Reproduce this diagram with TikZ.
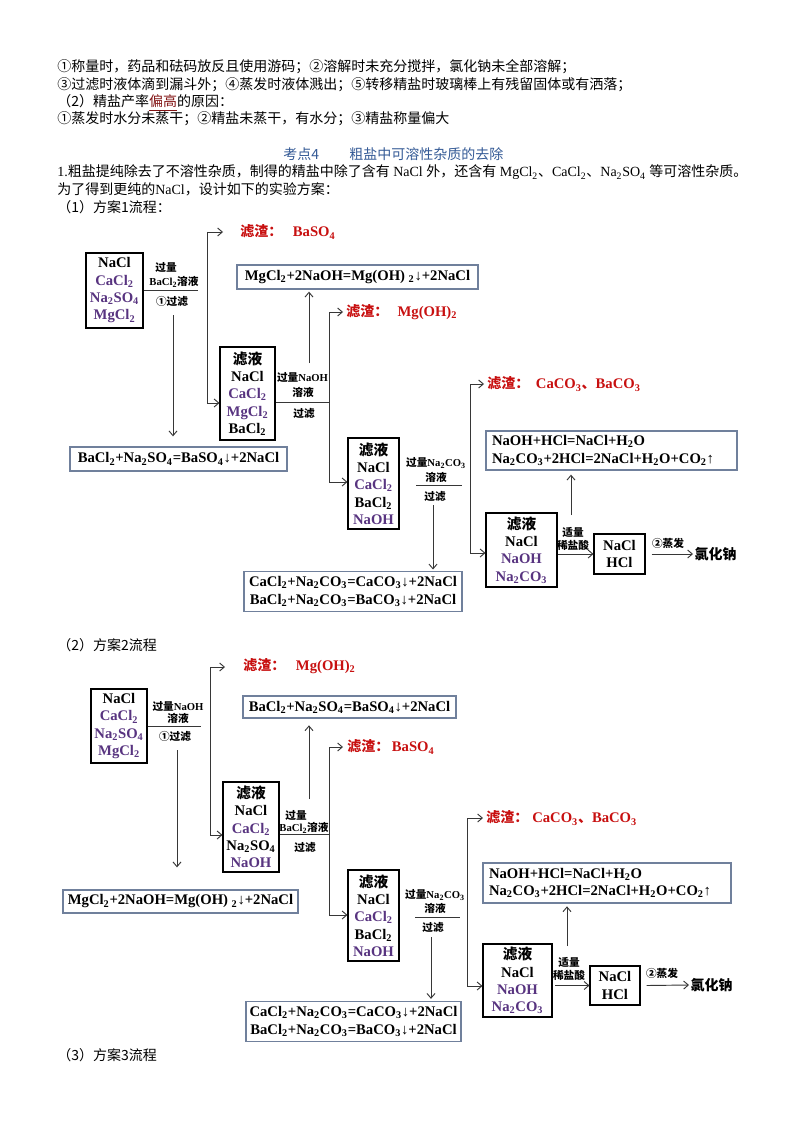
\documentclass[tikz,border=0pt]{standalone}
\usepackage{fontspec}
\setmainfont{Liberation Serif}
\newfontfamily\zh{Noto Sans CJK SC}
\usetikzlibrary{arrows.meta}
\definecolor{purp}{RGB}{88,52,128}
\definecolor{redc}{RGB}{200,16,16}
\definecolor{headc}{RGB}{52,90,150}
\definecolor{dred}{RGB}{130,20,20}
\definecolor{eqc}{RGB}{112,128,156}
\definecolor{linec}{RGB}{55,55,55}
\def\upx{0.75pt}
\newcommand{\pc}[1]{\textcolor{purp}{#1}}
\newcommand{\ssb}[1]{\textsubscript{#1}}
\newcommand{\zz}[1]{{\zh\fontsize{10.5}{13}\selectfont #1}}
\tikzset{
  sol/.style={draw=black, line width=0.8pt, align=center, inner sep=0pt, font=\fontsize{11}{13}\selectfont\bfseries},
  eq/.style={draw=eqc, line width=1pt, align=center, inner sep=0pt, font=\fontsize{11}{13}\selectfont\bfseries},
  lbl/.style={inner sep=0pt, font=\fontsize{8}{10}\selectfont\bfseries},
  res/.style={anchor=west, inner sep=0pt, text=redc, font=\fontsize{11}{13}\selectfont\bfseries},
  prod/.style={anchor=west, inner sep=1pt, font=\fontsize{10.5}{13}\selectfont\bfseries},
  body/.style={anchor=base west, inner sep=0pt, font=\fontsize{10.5}{12}\selectfont},
  conn/.style={draw=linec, line width=0.7pt},
  arr/.style={conn, -{Straight Barb[length=3.5pt,width=6pt]}},
}
\begin{document}
\begin{tikzpicture}[x=\upx,y=-\upx]
\fill[white] (0,0) rectangle (794,1123);
\useasboundingbox (0,0) rectangle (794,1123);

% ---------------- body text ----------------
\node[body] (t1) at (57,72) {\zh ①称量时，药品和砝码放反且使用游码；②溶解时未充分搅拌，氯化钠未全部溶解；};
\node[body] (t2) at (57,90) {\zh ③过滤时液体滴到漏斗外；④蒸发时液体溅出；⑤转移精盐时玻璃棒上有残留固体或有洒落；};
\node[body] (t3) at (57,107) {\zh （2）精盐产率\textcolor{dred}{\underline{偏高}}的原因：};
\node[body] (t4) at (57,124) {\zh ①蒸发时水分未蒸干；②精盐未蒸干，有水分；③精盐称量偏大};
\node[body, text=headc] (h1) at (283,160) {\zh 考点4};
\node[body, text=headc] (h2) at (349,160) {\zh 粗盐中可溶性杂质的去除};
\node[body] (t5) at (57,177) {1.{\zh 粗盐提纯除去了不溶性杂质，制得的精盐中除了含有} NaCl {\zh 外，还含有} MgCl\ssb{2}{\zh 、}CaCl\ssb{2}{\zh 、}Na\ssb{2}SO\ssb{4} {\zh 等可溶性杂质。}};
\node[body] (t6) at (57,195) {{\zh 为了得到更纯的}NaCl{\zh ，设计如下的实验方案：}};
\node[body] (t7) at (57,213) {\zh （1）方案1流程：};
\node[body] (t8) at (57,650) {\zh （2）方案2流程};
\node[body] (t9) at (57,1060) {\zh （3）方案3流程};

% ---------------- chart 1 ----------------
\node[sol, minimum width=57*\upx, minimum height=75*\upx] (A1) at (114.5,290.5) {NaCl\\\pc{CaCl\ssb{2}}\\\pc{Na\ssb{2}SO\ssb{4}}\\\pc{MgCl\ssb{2}}};
\node[sol, minimum width=55*\upx, minimum height=93*\upx] (B1) at (247.5,393.5) {{\zh 滤液}\\NaCl\\\pc{CaCl\ssb{2}}\\\pc{MgCl\ssb{2}}\\BaCl\ssb{2}};
\node[sol, minimum width=51*\upx, minimum height=91*\upx] (C1) at (373.5,483.5) {{\zh 滤液}\\NaCl\\\pc{CaCl\ssb{2}}\\BaCl\ssb{2}\\\pc{NaOH}};
\node[sol, minimum width=71*\upx, minimum height=74*\upx] (D1) at (521.5,550) {{\zh 滤液}\\NaCl\\\pc{NaOH}\\\pc{Na\ssb{2}CO\ssb{3}}};
\node[sol, minimum width=51*\upx, minimum height=40*\upx] (F1) at (619.5,554) {NaCl\\HCl};

\node[eq, minimum width=241*\upx, minimum height=24*\upx] (M1) at (357.5,277) {MgCl\ssb{2}+2NaOH=Mg(OH) \ssb{2}↓+2NaCl};
\node[eq, minimum width=217*\upx, minimum height=24*\upx] (H1) at (178.5,459) {BaCl\ssb{2}+Na\ssb{2}SO\ssb{4}=BaSO\ssb{4}↓+2NaCl};
\node[eq, minimum width=218*\upx, minimum height=40*\upx] (G1) at (353,591.5) {CaCl\ssb{2}+Na\ssb{2}CO\ssb{3}=CaCO\ssb{3}↓+2NaCl\\BaCl\ssb{2}+Na\ssb{2}CO\ssb{3}=BaCO\ssb{3}↓+2NaCl};
\node[eq, align=left, text width=239*\upx, inner xsep=6*\upx, minimum height=39*\upx] (E1) at (611.5,450.5) {NaOH+HCl=NaCl+H\ssb{2}O\\Na\ssb{2}CO\ssb{3}+2HCl=2NaCl+H\ssb{2}O+CO\ssb{2}↑};

\node[res] (R1) at (240,232) {\zz{滤渣：}\hspace{8pt}BaSO\ssb{4}};
\node[res] (R2) at (346,312) {\zz{滤渣：}\hspace{7pt}Mg(OH)\ssb{2}};
\node[res] (R3) at (487,384) {\zz{滤渣：}\hspace{5pt}CaCO\ssb{3}\zz{、}BaCO\ssb{3}};

\node[lbl] (l1a) at (166,268) {\zh 过量};
\node[lbl] (l1b) at (174,282) {BaCl\ssb{2}{\zh 溶液}};
\node[lbl] (l1c) at (172,302) {\zh ①过滤};
\node[lbl] (l2a) at (302.5,378) {{\zh 过量}NaOH};
\node[lbl] (l2b) at (303,392) {\zh 溶液};
\node[lbl] (l2c) at (304,414) {\zh 过滤};
\node[lbl] (l3a) at (436,463) {{\zh 过量}Na\ssb{2}CO\ssb{3}};
\node[lbl] (l3b) at (436,477) {\zh 溶液};
\node[lbl] (l3c) at (435,497) {\zh 过滤};
\node[lbl] (l4a) at (573,532) {\zh 适量};
\node[lbl] (l4b) at (573,545) {\zh 稀盐酸};
\node[lbl] (l5) at (668,543) {\zh ②蒸发};
\node[prod] (N1) at (693,554) {\zh 氯化钠};

\coordinate (a1e) at (198,290.5);
\draw[conn] (A1.east) -- (a1e);
\coordinate (k1t) at (207,232); \coordinate (k1b) at (207,403); \coordinate (k1r) at (223,232);
\draw[arr] (k1b) -- (k1t) -- (k1r);
\draw[arr] (k1t) -- (k1b) -- (k1b -| B1.west);
\coordinate (d1) at (173,315);
\draw[arr, shorten >=7.5pt] (d1) -- (d1 |- H1.north);
\coordinate (j2) at (329,402);
\draw[conn] (j2 -| B1.east) -- (j2);
\coordinate (u1) at (309,363);
\draw[arr, shorten >=1.5pt] (u1) -- (u1 |- M1.south);
\coordinate (k2t) at (329,312); \coordinate (k2b) at (329,482); \coordinate (k2r) at (343,312);
\draw[arr] (k2b) -- (k2t) -- (k2r);
\draw[arr] (k2t) -- (k2b) -- (k2b -| C1.west);
\coordinate (c1a) at (416,485); \coordinate (c1b) at (462,485);
\draw[conn] (c1a) -- (c1b);
\coordinate (d2) at (433,505);
\draw[arr, shorten >=1pt] (d2) -- (d2 |- G1.north);
\coordinate (k3t) at (470,384); \coordinate (k3b) at (470,553); \coordinate (k3r) at (484,384);
\draw[arr] (k3b) -- (k3t) -- (k3r);
\draw[arr] (k3t) -- (k3b) -- (k3b -| D1.west);
\coordinate (u2) at (571,515);
\draw[arr, shorten >=3pt] (u2) -- (u2 |- E1.south);
\draw[arr] (F1.west -| D1.east) -- (F1.west);
\draw[arr] ([xshift=4.5pt]F1.east) -- (N1.west);

% ---------------- chart 2 ----------------
\node[sol, minimum width=56*\upx, minimum height=74*\upx] (A2) at (119,726) {NaCl\\\pc{CaCl\ssb{2}}\\\pc{Na\ssb{2}SO\ssb{4}}\\\pc{MgCl\ssb{2}}};
\node[sol, minimum width=56*\upx, minimum height=90*\upx] (B2) at (251,827) {{\zh 滤液}\\NaCl\\\pc{CaCl\ssb{2}}\\Na\ssb{2}SO\ssb{4}\\\pc{NaOH}};
\node[sol, minimum width=51*\upx, minimum height=91*\upx] (C2) at (373.5,915.5) {{\zh 滤液}\\NaCl\\\pc{CaCl\ssb{2}}\\BaCl\ssb{2}\\\pc{NaOH}};
\node[sol, minimum width=69*\upx, minimum height=73*\upx] (D2) at (517.5,980.5) {{\zh 滤液}\\NaCl\\\pc{NaOH}\\\pc{Na\ssb{2}CO\ssb{3}}};
\node[sol, minimum width=50*\upx, minimum height=39*\upx] (F2) at (615,985.5) {NaCl\\HCl};

\node[eq, minimum width=213*\upx, minimum height=22*\upx] (M2) at (349.5,707) {BaCl\ssb{2}+Na\ssb{2}SO\ssb{4}=BaSO\ssb{4}↓+2NaCl};
\node[eq, minimum width=235*\upx, minimum height=23*\upx] (H2) at (180.5,901.5) {MgCl\ssb{2}+2NaOH=Mg(OH) \ssb{2}↓+2NaCl};
\node[eq, minimum width=215*\upx, minimum height=40*\upx] (G2) at (353.5,1021.5) {CaCl\ssb{2}+Na\ssb{2}CO\ssb{3}=CaCO\ssb{3}↓+2NaCl\\BaCl\ssb{2}+Na\ssb{2}CO\ssb{3}=BaCO\ssb{3}↓+2NaCl};
\node[eq, align=left, text width=236*\upx, inner xsep=6*\upx, minimum height=40*\upx] (E2) at (607,883) {NaOH+HCl=NaCl+H\ssb{2}O\\Na\ssb{2}CO\ssb{3}+2HCl=2NaCl+H\ssb{2}O+CO\ssb{2}↑};

\node[res] (R4) at (243,666) {\zz{滤渣：}\hspace{8pt}Mg(OH)\ssb{2}};
\node[res] (R5) at (347,747) {\zz{滤渣：}\hspace{2pt}BaSO\ssb{4}};
\node[res] (R6) at (486,818) {\zz{滤渣：}\hspace{3pt}CaCO\ssb{3}\zz{、}BaCO\ssb{3}};

\node[lbl] (m1a) at (178,706) {{\zh 过量}NaOH};
\node[lbl] (m1b) at (178,718) {\zh 溶液};
\node[lbl] (m1c) at (175,737) {\zh ①过滤};
\node[lbl] (m2a) at (296,815) {\zh 过量};
\node[lbl] (m2b) at (304,828) {BaCl\ssb{2}{\zh 溶液}};
\node[lbl] (m2c) at (305,848) {\zh 过滤};
\node[lbl] (m3a) at (435,895) {{\zh 过量}Na\ssb{2}CO\ssb{3}};
\node[lbl] (m3b) at (435,908) {\zh 溶液};
\node[lbl] (m3c) at (433,927) {\zh 过滤};
\node[lbl] (m4a) at (569,962) {\zh 适量};
\node[lbl] (m4b) at (569,975) {\zh 稀盐酸};
\node[lbl] (m5) at (662,973) {\zh ②蒸发};
\node[prod] (N2) at (689,985) {\zh 氯化钠};

\coordinate (a2e) at (201,726);
\draw[conn] (A2.east) -- (a2e);
\coordinate (k4t) at (210,667); \coordinate (k4b) at (210,835); \coordinate (k4r) at (225,667);
\draw[arr] (k4b) -- (k4t) -- (k4r);
\draw[arr] (k4t) -- (k4b) -- (k4b -| B2.west);
\coordinate (d3) at (177,750);
\draw[arr, shorten >=16.5pt] (d3) -- (d3 |- H2.north);
\coordinate (j5) at (329,834);
\draw[conn] (j5 -| B2.east) -- (j5);
\coordinate (u3) at (309,799);
\draw[arr, shorten >=5pt] (u3) -- (u3 |- M2.south);
\coordinate (k5t) at (329,747); \coordinate (k5b) at (329,915); \coordinate (k5r) at (343,747);
\draw[arr] (k5b) -- (k5t) -- (k5r);
\draw[arr] (k5t) -- (k5b) -- (k5b -| C2.west);
\coordinate (c2a) at (415,917); \coordinate (c2b) at (460,917);
\draw[conn] (c2a) -- (c2b);
\coordinate (d4) at (431,937);
\draw[arr, shorten >=1.5pt] (d4) -- (d4 |- G2.north);
\coordinate (k6t) at (467,818); \coordinate (k6b) at (467,986); \coordinate (k6r) at (483,818);
\draw[arr] (k6b) -- (k6t) -- (k6r);
\draw[arr] (k6t) -- (k6b) -- (k6b -| D2.west);
\coordinate (u4) at (567,946);
\draw[arr, shorten >=2pt] (u4) -- (u4 |- E2.south);
\draw[arr] ([xshift=2pt]F2.west -| D2.east) -- (F2.west);
\draw[arr] ([xshift=4.5pt]F2.east) -- (N2.west);
\end{tikzpicture}
\end{document}
